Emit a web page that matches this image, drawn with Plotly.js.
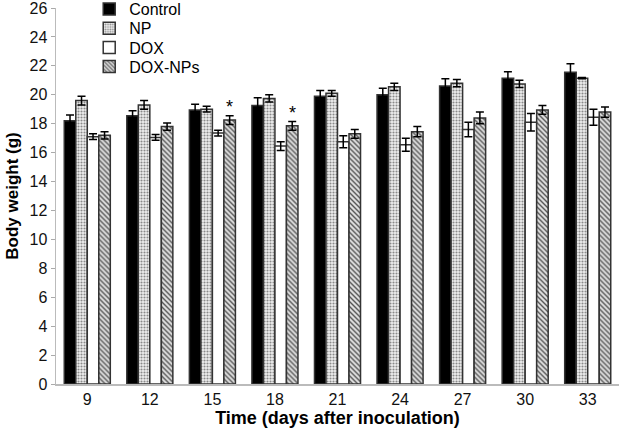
<!DOCTYPE html>
<html>
<head>
<meta charset="utf-8">
<script src="https://cdn.plot.ly/plotly-3.0.1.min.js"></script>
<style>html,body{margin:0;padding:0;background:#fff}#chart{width:619px;height:433px}</style>
</head>
<body>
<div id="chart"></div>
<script>
const days = ["9", "12", "15", "18", "21", "24", "27", "30", "33"];
const seriesNames = ["Control", "NP", "DOX", "DOX-NPs"];
const control = [18.2, 18.55, 18.95, 19.25, 19.9, 20.0, 20.6, 21.15, 21.55];
const controlErr = [0.4, 0.35, 0.4, 0.55, 0.4, 0.45, 0.5, 0.45, 0.6];
const np = [19.6, 19.3, 19.0, 19.75, 20.1, 20.55, 20.8, 20.75, 21.15];
const npErr = [0.3, 0.3, 0.2, 0.25, 0.2, 0.25, 0.25, 0.25, 0.05];
const dox = [17.1, 17.05, 17.35, 16.45, 16.75, 16.55, 17.6, 18.1, 18.45];
const doxErr = [0.2, 0.2, 0.2, 0.3, 0.42, 0.45, 0.5, 0.6, 0.55];
const doxNps = [17.2, 17.8, 18.25, 17.85, 17.3, 17.45, 18.4, 18.95, 18.8];
const doxNpsErr = [0.25, 0.25, 0.3, 0.3, 0.3, 0.35, 0.4, 0.3, 0.35];
const starDays = ["15", "18"];

const outline = {color: '#333', width: 1.5};
const eb = (arr) => ({type: 'data', array: arr, visible: true, color: '#000', thickness: 1.5, width: 4});
const legendIds = ['legend', 'legend2', 'legend3', 'legend4'];

const traces = [
  {type: 'bar', name: seriesNames[0], legend: legendIds[0], x: days, y: control, error_y: eb(controlErr),
   marker: {color: '#000', line: outline}},
  {type: 'bar', name: seriesNames[1], legend: legendIds[1], x: days, y: np, error_y: eb(npErr),
   marker: {color: '#fff', line: outline, pattern: {shape: '.', fgcolor: '#8a8a8a', bgcolor: '#efefef', size: 3, solidity: 0.4}}},
  {type: 'bar', name: seriesNames[2], legend: legendIds[2], x: days, y: dox, error_y: eb(doxErr),
   marker: {color: '#fff', line: outline}},
  {type: 'bar', name: seriesNames[3], legend: legendIds[3], x: days, y: doxNps, error_y: eb(doxNpsErr),
   marker: {color: '#fff', line: outline, pattern: {shape: '\\', fgcolor: '#555', bgcolor: '#e0e0e0', size: 3.5, solidity: 0.4}}}
];

const bargap = 0.264;
const barW = (1 - bargap) / 4;
const annotations = starDays.map(d => {
  const i = days.indexOf(d);
  return {x: i + 1.5 * barW, y: doxNps[i] + doxNpsErr[i], xref: 'x', yref: 'y',
    text: '*', showarrow: false, yanchor: 'bottom', yshift: -3,
    font: {family: 'Liberation Sans, Arial', size: 18, color: '#000'}};
});

const legendYs = [0.997, 0.946, 0.895, 0.844];
const legendBase = {x: 0.059, xanchor: 'left', yanchor: 'middle', bgcolor: 'rgba(0,0,0,0)',
  font: {size: 16, color: '#000'}, itemwidth: 30};

const layout = {
  width: 619, height: 433,
  margin: {l: 56, r: 0, t: 8, b: 49, autoexpand: false},
  paper_bgcolor: '#fff', plot_bgcolor: '#fff',
  barmode: 'group', bargap: bargap, bargroupgap: 0,
  font: {family: 'Liberation Sans, Arial, sans-serif', size: 16, color: '#111'},
  showlegend: true,
  xaxis: {
    type: 'category', range: [-0.5, 8.5], showline: true, linecolor: '#bbb', linewidth: 1.5,
    ticks: '', showgrid: false, zeroline: false,
    tickfont: {size: 16, color: '#111'},
    title: {text: '<b>Time (days after inoculation)</b>', font: {size: 18, color: '#000'}, standoff: 4}
  },
  yaxis: {
    range: [0, 26], dtick: 2, showline: true, linecolor: '#bbb', linewidth: 1.5,
    ticks: 'outside', ticklen: 4, tickcolor: '#aaa', tickwidth: 1, ticklabeloverflow: 'allow',
    showgrid: false, zeroline: false,
    tickfont: {size: 16, color: '#111'},
    title: {text: '<b>Body weight (g)</b>', font: {size: 17, color: '#000'}, standoff: 6}
  },
  annotations: annotations
};
legendIds.forEach((id, k) => { layout[id] = Object.assign({}, legendBase, {y: legendYs[k]}); });

Plotly.newPlot('chart', traces, layout, {displayModeBar: false, staticPlot: true});
</script>
</body>
</html>
